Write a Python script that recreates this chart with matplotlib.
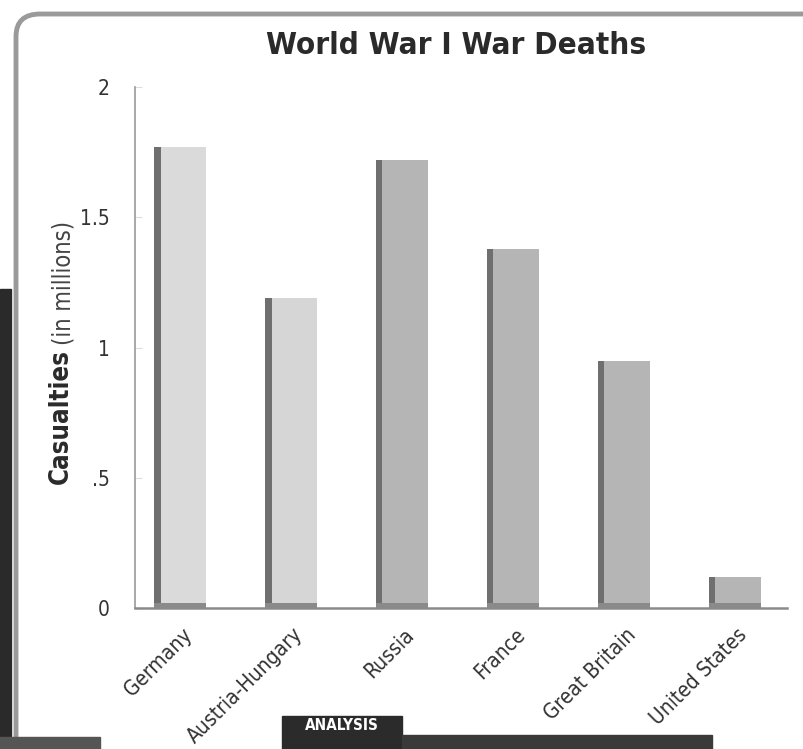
import matplotlib
matplotlib.use("Agg")
import matplotlib.pyplot as plt
import matplotlib.transforms as mtransforms
from matplotlib.patches import FancyBboxPatch, Rectangle

# Data (millions of deaths)
countries = ["Germany", "Austria-Hungary", "Russia", "France", "Great Britain", "United States"]
deaths = [1.77, 1.19, 1.72, 1.38, 0.95, 0.12]
bar_colors = ["#dadada", "#d6d6d6", "#b5b5b5", "#b5b5b5", "#b5b5b5", "#b5b5b5"]
yticks = [0, 0.5, 1, 1.5, 2]
ytick_labels = ["0", ".5", "1", "1.5", "2"]

plt.rcParams["font.family"] = ["DejaVu Sans"]
plt.rcParams["font.stretch"] = "condensed"

W, H = 804, 749
fig = plt.figure(figsize=(W / 100, H / 100), dpi=100)
fig.patch.set_facecolor("white")

# decorative frame
frame = FancyBboxPatch((16 / W, -40 / H), 830 / W, 775 / H,
                       boxstyle="round,pad=0,rounding_size=0.03",
                       transform=fig.transFigure, fill=False,
                       edgecolor="#9a9a9a", linewidth=3.5, zorder=0)
fig.add_artist(frame)
fig.add_artist(Rectangle((0, 0), 11 / W, 460 / H, transform=fig.transFigure,
                         color="#2a2a2a", zorder=0))
fig.add_artist(Rectangle((0, 0), 100 / W, 12 / H, transform=fig.transFigure,
                         color="#555555", zorder=1))
fig.add_artist(Rectangle((282 / W, 0), 120 / W, 33 / H, transform=fig.transFigure,
                         color="#2b2b2b", zorder=1))
fig.add_artist(Rectangle((402 / W, 0), 310 / W, 14 / H, transform=fig.transFigure,
                         color="#3a3a3a", zorder=1))
fig.text(342 / W, 24 / H, "ANALYSIS", color="white", fontsize=11,
         fontweight="bold", ha="center", va="center", zorder=2)

ax = fig.add_axes([135 / W, 1 - 608 / H, (787 - 135) / W, (608 - 87) / H])
x = list(range(len(countries)))
width = 0.47
ax.bar(x, deaths, width=width, color=bar_colors, zorder=2)
# dark left edge of each bar
left = [i - width / 2 + 0.03 for i in x]
ax.bar(left, deaths, width=0.06, color="#6f6f6f", zorder=3)
# shaded base
ax.bar(x, [0.02] * len(x), width=width, color="#8a8a8a", zorder=3)

ax.set_xlim(-0.405, 5.47)
ax.set_ylim(0, 2)
ax.set_yticks(yticks)
ax.set_yticklabels(ytick_labels, fontsize=15, color="#333333")
ax.tick_params(axis="y", direction="in", length=5, color="#dddddd", pad=18)
ax.set_xticks(x)
ax.set_xticklabels(countries, rotation=45, ha="right", va="top",
                   rotation_mode="anchor", fontsize=15, color="#333333")
ax.tick_params(axis="x", length=0, pad=6)
offset = mtransforms.ScaledTranslation(0.02, -0.08, fig.dpi_scale_trans)
for lab in ax.get_xticklabels():
    lab.set_transform(lab.get_transform() + offset)

for s in ["top", "right"]:
    ax.spines[s].set_visible(False)
ax.spines["left"].set_color("#9a9a9a")
ax.spines["left"].set_linewidth(1.2)
ax.spines["bottom"].set_color("#8a8a8a")
ax.spines["bottom"].set_linewidth(1.8)

fig.text(456 / W, 1 - 45 / H, "World War I War Deaths", fontsize=22.5,
         fontweight="bold", ha="center", va="center", color="#2a2a2a")
fig.text(61 / W, 1 - 349 / H, "Casualties", fontsize=18.5, fontweight="bold",
         rotation=90, ha="center", va="top", color="#2a2a2a")
fig.text(64 / W, 1 - 345 / H, "(in millions)", fontsize=17,
         rotation=90, ha="center", va="bottom", color="#444444")

fig.savefig("out.png", dpi=100)
